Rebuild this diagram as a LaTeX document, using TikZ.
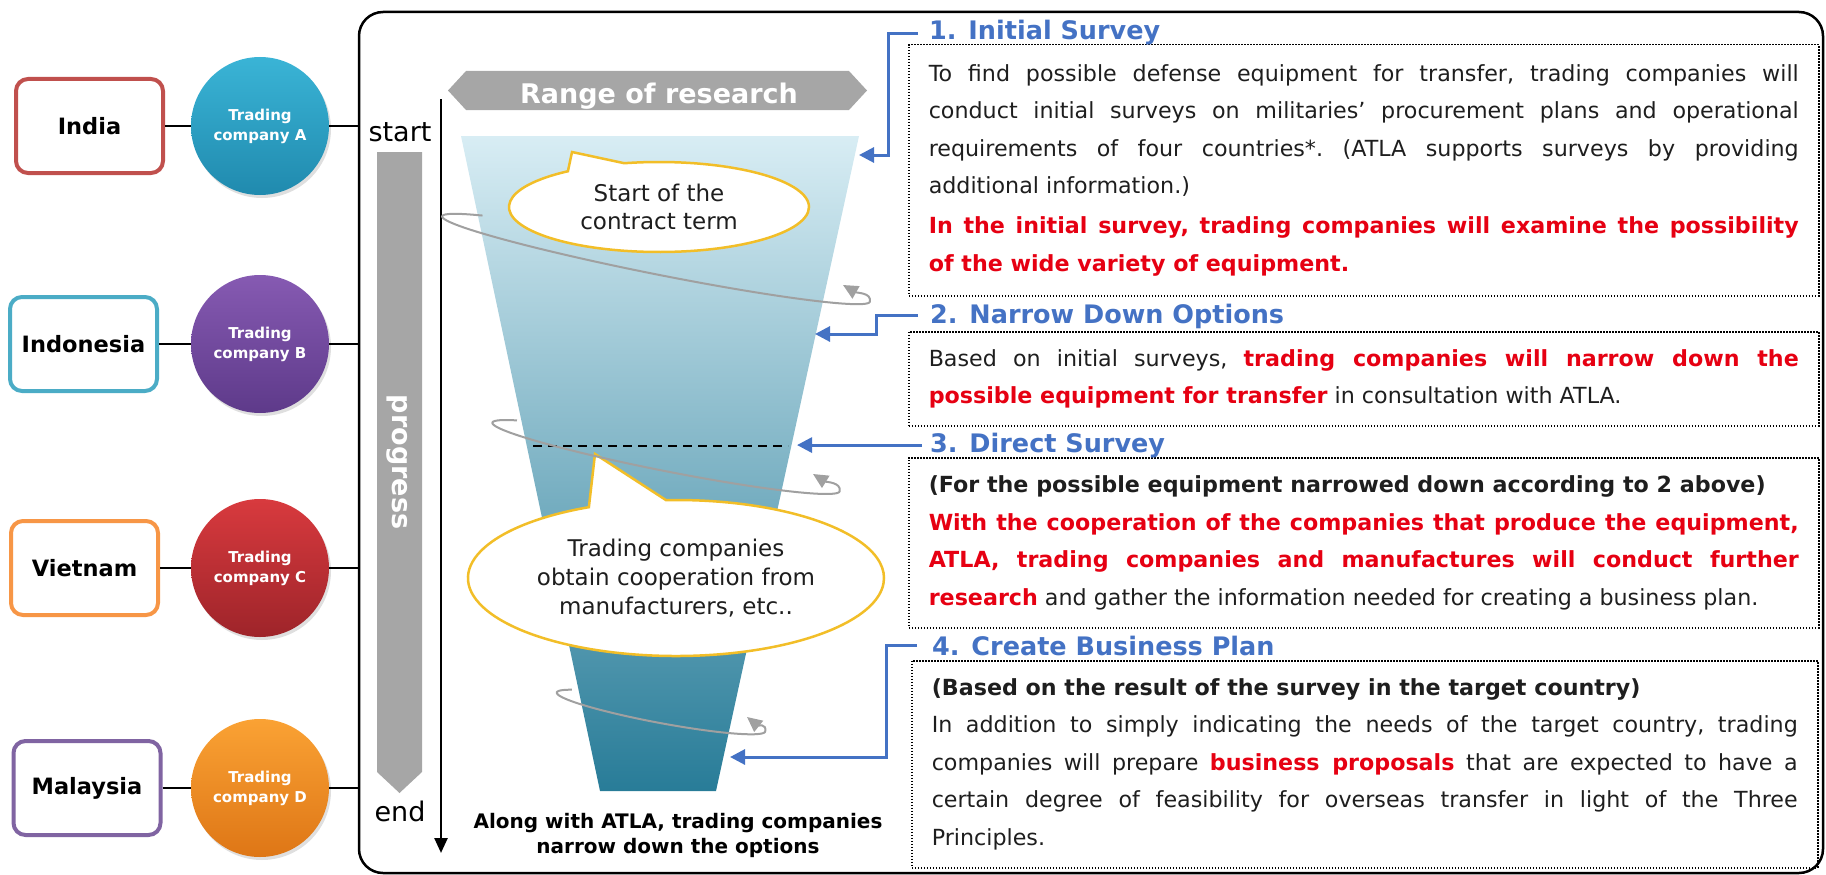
\documentclass[tikz,border=0pt]{standalone}
\usepackage{fontspec}
\setmainfont{DejaVu Sans}
\usetikzlibrary{positioning,arrows.meta,shapes.callouts,shadows}

\definecolor{indiared}{RGB}{192,80,77}
\definecolor{indoblue}{RGB}{75,172,198}
\definecolor{vietorange}{RGB}{247,150,70}
\definecolor{malaypurple}{RGB}{128,100,162}
\definecolor{compAtop}{RGB}{58,180,214}
\definecolor{compAbot}{RGB}{32,138,174}
\definecolor{compBtop}{RGB}{134,90,178}
\definecolor{compBbot}{RGB}{94,58,138}
\definecolor{compCtop}{RGB}{216,58,62}
\definecolor{compCbot}{RGB}{158,36,42}
\definecolor{compDtop}{RGB}{250,162,52}
\definecolor{compDbot}{RGB}{222,118,22}
\definecolor{bargray}{RGB}{166,166,166}
\definecolor{orbitgray}{RGB}{160,160,160}
\definecolor{funtop}{RGB}{216,237,244}
\definecolor{funmid}{RGB}{156,210,226}
\definecolor{funbot}{RGB}{40,124,152}
\definecolor{bubbleline}{RGB}{242,190,40}
\definecolor{headblue}{RGB}{68,114,196}
\definecolor{alarmred}{RGB}{230,0,18}
\definecolor{bodytext}{RGB}{30,30,30}

\begin{document}
\begin{tikzpicture}[x=1pt, y=-1pt, >=Latex,
  frame/.style={draw, line width=2.5pt, rounded corners=24pt, minimum width=1464pt, minimum height=861pt, inner sep=0pt},
  country/.style={draw=#1, line width=4pt, rounded corners=12pt, fill=white, minimum width=147pt, minimum height=94pt, font=\fontsize{22.5pt}{27pt}\selectfont\bfseries},
  company/.style 2 args={circle, top color=#1, bottom color=#2, minimum size=138pt, inner sep=0pt, align=center, text=white, drop shadow={opacity=0.25, shadow xshift=2pt, shadow yshift=-3pt}, font=\fontsize{15pt}{20pt}\selectfont\bfseries},
  link/.style={line width=2.5pt},
  timelabel/.style={anchor=base, inner sep=0pt, font=\fontsize{27pt}{32pt}\selectfont},
  whitelabel/.style={text=white, inner sep=0pt, font=\fontsize{27pt}{32pt}\selectfont\bfseries},
  bubble/.style={ellipse callout, draw=bubbleline, line width=2.5pt, fill=white, align=center, inner sep=0pt, text=bodytext, font=\fontsize{23pt}{28pt}\selectfont},
  orbit/.style={draw=orbitgray, line width=2pt, -{Triangle[length=15pt, width=14pt]}},
  cutline/.style={line width=2.5pt, dash pattern=on 9pt off 6pt},
  bluearrow/.style={draw=headblue, line width=3pt, -{Triangle[length=15pt, width=15pt]}},
  head/.style={anchor=base west, inner sep=0pt, text=headblue, font=\fontsize{25.5pt}{30pt}\selectfont\bfseries},
  descbox/.style={draw, line width=1.5pt, dash pattern=on 1.5pt off 1.5pt, anchor=north west, inner xsep=20pt, inner ysep=0pt, align=justify, text=bodytext, font=\fontsize{22.2pt}{37.5pt}\selectfont\frenchspacing},
]
  \useasboundingbox (0,0) rectangle (1826,875);

  % Frame
  \node[frame] (frame) at (1091,442.5) {};

  % Countries and trading companies
  \node[country=indiared] (india) at (89.5,126) {India};
  \node[country=indoblue] (indonesia) at (83.5,344) {Indonesia};
  \node[country=vietorange] (vietnam) at (84.5,568) {Vietnam};
  \node[country=malaypurple] (malaysia) at (87,788) {Malaysia};

  \node[company={compAtop}{compAbot}] (compA) at (260,126) {Trading\\company A};
  \node[company={compBtop}{compBbot}] (compB) at (260,344) {Trading\\company B};
  \node[company={compCtop}{compCbot}] (compC) at (260,568) {Trading\\company C};
  \node[company={compDtop}{compDbot}] (compD) at (260,788) {Trading\\company D};

  \draw[link] (india) -- (compA);
  \draw[link] (indonesia) -- (compB);
  \draw[link] (vietnam) -- (compC);
  \draw[link] (malaysia) -- (compD);
  \draw[link] (compA) -- (compA -| frame.west);
  \draw[link] (compB) -- (compB -| frame.west);
  \draw[link] (compC) -- (compC -| frame.west);
  \draw[link] (compD) -- (compD -| frame.west);

  % Progress bar and time axis
  \fill[bargray] (377,152) -- (422,152) -- (422,772) -- (399.5,793) -- (377,772) -- cycle;
  \node[whitelabel, rotate=-90] (progress) at (397,462) {progress};
  \node[timelabel] (startlbl) at (400,141) {start};
  \node[timelabel] (endlbl) at (400,821) {end};
  \coordinate (timetop) at (441,99);
  \coordinate (timebot) at (441,853);
  \draw[line width=2.5pt, -{Triangle[length=15pt, width=13pt]}] (timetop) -- (timebot);

  % Range of research
  \fill[bargray] (448,90.5) -- (466,71) -- (849,71) -- (867,90.5) -- (849,110) -- (466,110) -- cycle;
  \node[whitelabel, anchor=base] (range) at (659,103) {Range of research};

  % Funnel
  \shade[top color=funtop, middle color=funmid, bottom color=funbot]
    (461,136) -- (859,136) -- (716,791) -- (600,791) -- cycle;

  \draw[orbit] plot[domain=215:0, samples=60]
    ({656 + 218*cos(\x)*0.981 - 15*sin(\x)*0.196}, {259 + 218*cos(\x)*0.196 + 15*sin(\x)*0.981})
    .. controls +(2,-9) and +(14,8) .. (843,285);

  \node[bubble, minimum width=300pt, minimum height=90pt, callout absolute pointer={(572,152)}, callout pointer arc=24] (startbub) at (659,207) {Start of the\\contract term};

  \coordinate (cutL) at (533,446);
  \coordinate (cutR) at (788,446);
  \draw[cutline] (cutL) -- (cutR);

  \node[bubble, minimum width=416pt, minimum height=156pt, callout absolute pointer={(595,454)}, callout pointer arc=22, font=\fontsize{23pt}{29pt}\selectfont] (coopbub) at (676,578) {Trading companies\\obtain cooperation from\\manufacturers, etc..};

  \draw[orbit] plot[domain=210:0, samples=60]
    ({666 + 177*cos(\x)*0.981 - 14*sin(\x)*0.194}, {457 + 177*cos(\x)*0.194 + 14*sin(\x)*0.981})
    .. controls +(2,-9) and +(13,8) .. (813,474);
  \draw[orbit] plot[domain=210:0, samples=60]
    ({661 + 106*cos(\x)*0.983 - 11*sin(\x)*0.184}, {712 + 106*cos(\x)*0.184 + 11*sin(\x)*0.983})
    .. controls +(2,-8) and +(10,8) .. (747,717);

  \node[font=\fontsize{20pt}{25pt}\selectfont\bfseries, align=center, text=black, inner sep=0pt] (summary) at (678,835) {Along with ATLA, trading companies\\narrow down the options};

  % Steps
  \node[descbox, text width=870pt, minimum height=251pt] (box1) at (908,44) {To find possible defense equipment for transfer, trading companies will\linebreak
    conduct initial surveys on militaries’ procurement plans and operational\linebreak
    requirements of four countries*. (ATLA supports surveys by providing\linebreak
    additional information.)\par\vspace{2.5pt}
    \textcolor{alarmred}{\bfseries In the initial survey, trading companies will examine the possibility\linebreak
    of the wide variety of equipment.}};
  \node[descbox, text width=870pt, minimum height=94pt] (box2) at (908,331) {Based on initial surveys, \textcolor{alarmred}{\bfseries trading companies will narrow down the\linebreak
    possible equipment for transfer} in consultation with ATLA.};
  \node[descbox, text width=870pt, minimum height=170pt] (box3) at (908,457) {{\bfseries (For the possible equipment narrowed down according to 2 above)}\par
    \textcolor{alarmred}{\bfseries With the cooperation of the companies that produce the equipment,\linebreak
    ATLA, trading companies and manufactures will conduct further\linebreak
    research} and gather the information needed for creating a business plan.};
  \node[descbox, text width=866pt, minimum height=207pt] (box4) at (911,660) {{\bfseries (Based on the result of the survey in the target country)}\par
    In addition to simply indicating the needs of the target country, trading\linebreak
    companies will prepare \textcolor{alarmred}{\bfseries business proposals} that are expected to have a\linebreak
    certain degree of feasibility for overseas transfer in light of the Three\linebreak
    Principles.};

  \node[head] (head1) at (929,40) {1. Initial Survey};
  \node[head] (head2) at (930,323) {2. Narrow Down Options};
  \node[head] (head3) at (930,452) {3. Direct Survey};
  \node[head] (head4) at (932,655) {4. Create Business Plan};

  % Arrows into the funnel
  \coordinate (t1) at (859,155);
  \coordinate (t2) at (815,334);
  \coordinate (t3) at (797,445);
  \coordinate (t4) at (730,757);
  \draw[bluearrow] ([xshift=-11pt]head1.west) -- ++(-30,0) |- (t1);
  \draw[bluearrow] ([xshift=-12pt]head2.west) -- ++(-42,0) |- (t2);
  \draw[bluearrow] ([xshift=-8pt]head3.west) -- (head3.west -| t3);
  \draw[bluearrow] ([xshift=-15pt]head4.west) -- ++(-31,0) |- (t4);
\end{tikzpicture}
\end{document}
